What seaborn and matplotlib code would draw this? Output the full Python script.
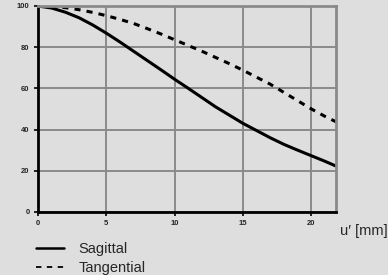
import numpy as np
import pandas as pd
import matplotlib
matplotlib.use("Agg")
import matplotlib.pyplot as plt
import seaborn as sns
from matplotlib.lines import Line2D

# data (image height u' in mm, contrast in %)
u_mm = [0, 1, 2, 3, 4, 5, 6, 7, 8, 9, 10, 11, 12, 13, 14, 15, 16, 17, 18, 19, 20, 21, 21.8]
sagittal = [100, 99.0, 97.0, 94.3, 90.8, 86.8, 82.5, 78, 73.5, 69, 64.4, 60, 55.5,
            51, 47, 43, 39.5, 36, 32.8, 30, 27.3, 24.6, 22.3]
tangential = [100, 99.8, 99.2, 98.2, 96.9, 95.3, 93.5, 91.5, 89, 86.4, 83.6, 80.8, 78,
              75, 72, 68.8, 65.4, 62, 58, 54, 50, 46.4, 43.8]
x_ticks = [0, 5, 10, 15, 20]
y_ticks = [0, 20, 40, 60, 80, 100]

df = pd.DataFrame({"u": u_mm * 2,
                   "val": sagittal + tangential,
                   "kind": ["Sagittal"] * len(u_mm) + ["Tangential"] * len(u_mm)})

sns.set_theme(style="whitegrid")
plt.rcParams["font.family"] = ["Liberation Sans", "DejaVu Sans"]
bg = "#dedede"
grid_c = "#8a8a8a"

fig = plt.figure(figsize=(3.88, 2.75), dpi=100, facecolor=bg)
ax = fig.add_axes([38 / 388, 1 - 212 / 275, (336 - 38) / 388, (212 - 6) / 275])
ax.set_facecolor(bg)

sns.lineplot(data=df, x="u", y="val", hue="kind", style="kind",
             palette=["black", "black"], dashes=[(None, None), (2, 2)],
             linewidth=2.2, ax=ax, legend=False)

ax.set_xlim(0, 21.8)
ax.set_ylim(0, 100)
ax.set_xticks(x_ticks)
ax.set_yticks(y_ticks)
ax.set_xticklabels([str(t) for t in x_ticks], fontsize=5.5, fontweight="bold")
ax.set_yticklabels([str(t) for t in y_ticks], fontsize=5.5, fontweight="bold")
ax.grid(True, color=grid_c, linewidth=1.4)
ax.set_xlabel("")
ax.set_ylabel("")
ax.tick_params(axis="both", length=3, width=1.2, color="black", pad=3, direction="out")
ax.tick_params(left=True, bottom=True)

for side in ["left", "bottom"]:
    ax.spines[side].set_color("black")
    ax.spines[side].set_linewidth(2)
for side in ["top", "right"]:
    ax.spines[side].set_color(grid_c)
    ax.spines[side].set_linewidth(2)
    ax.spines[side].set_visible(True)

fig.text(340 / 388, 1 - 231 / 275, "u\u2032 [mm]", fontsize=10.5, va="center", ha="left")

# legend drawn below the plot
handles = [Line2D([], [], color="black", lw=1.8),
           Line2D([], [], color="black", lw=1.3, linestyle=(0, (3, 3)))]
fig.legend(handles, ["Sagittal", "Tangential"], loc="upper left",
           bbox_to_anchor=(36 / 388, 1 - 242 / 275), frameon=False,
           fontsize=10.5, handlelength=1.9, handletextpad=1.0, labelspacing=0.35,
           borderpad=0, borderaxespad=0)

fig.savefig("out.png", dpi=100, facecolor=bg)
